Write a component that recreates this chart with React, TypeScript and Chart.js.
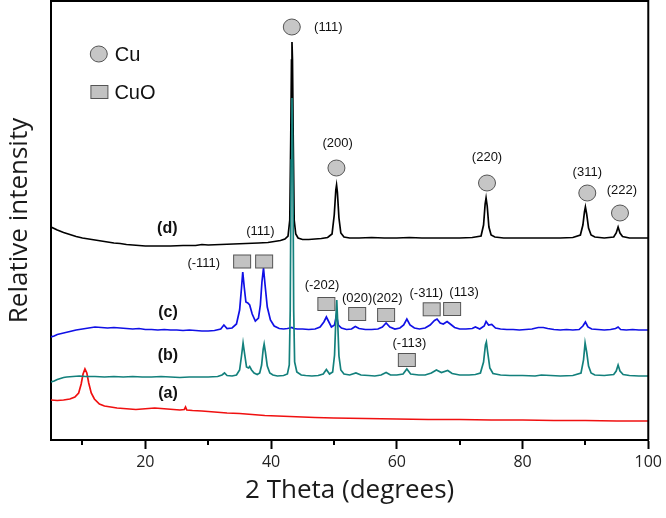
import React, { useEffect, useRef } from "react";
import { Chart, registerables } from "chart.js";

Chart.register(...registerables);

// ---- data (2θ in degrees, intensity in arbitrary stacked units) ----
const A_X = [5, 6, 7, 8, 8.8, 9.4, 9.8, 10.1, 10.4, 10.7, 11.0, 11.4, 11.9, 12.7, 13.5, 14.5, 15.5, 16.5, 17.5, 18.5, 19.5, 20.5, 21.5, 22.5, 23.5, 24.5, 25.5, 26.2, 26.4, 26.6, 27.5, 29, 31, 33, 35, 37, 39, 41, 43, 45, 47, 50, 55, 60, 65, 70, 75, 80, 85, 90, 95, 100];
const A_Y = [40, 39.5, 40, 41, 43, 47, 56, 66, 71, 67, 57, 47, 41, 36, 34, 33, 32, 31.5, 31, 30.5, 31, 31.5, 32, 31.5, 31, 30.5, 30, 30.5, 33, 30, 29.5, 29, 28, 27, 26.5, 25.5, 24.5, 24, 23.5, 23, 22.5, 22, 21.5, 21, 20.5, 20.5, 20, 20, 19.5, 19.5, 19, 19];

const B_X = [5, 5.5, 6, 6.5, 7, 7.5, 8.5, 9.5, 10.5, 12, 13.5, 15, 16.5, 18, 19.5, 21, 22.5, 24, 25.5, 27, 28.5, 30, 31.5, 32.2, 32.6, 33, 33.8, 34.5, 35.0, 35.3, 35.55, 35.8, 36.1, 36.4, 36.6, 36.9, 37.3, 37.8, 38.2, 38.5, 38.75, 38.9, 39.1, 39.4, 39.8, 40.3, 41, 42, 42.6, 42.9, 43.05, 43.2, 43.33, 43.47, 43.6, 43.75, 44.1, 44.8, 45.5, 46.5, 47.5, 48.3, 48.8, 49.3, 49.8, 50.1, 50.3, 50.45, 50.6, 50.8, 51.1, 51.6, 52.5, 53.5, 54.3, 55.5, 56.5, 57.5, 58.3, 59, 60, 61.0, 61.6, 62.2, 63.5, 64.5, 65.5, 66.3, 67.1, 68.1, 68.8, 70, 71.5, 72.5, 73.3, 73.8, 74.1, 74.25, 74.45, 74.8, 75.3, 76.5, 78, 80, 82, 83, 84.5, 86, 88, 89.3, 89.7, 89.95, 90.2, 90.5, 90.9, 91.5, 93, 94.5, 94.9, 95.2, 95.5, 96, 97, 98.5, 100];
const B_Y = [58, 59, 60.5, 61.5, 62.5, 63, 63.5, 64, 63.5, 63.5, 63, 63.5, 63, 63.5, 63, 63, 63.5, 63, 62.5, 63, 63, 63, 63.5, 65, 67, 64.5, 64, 65, 70, 84, 97, 86, 73, 72, 73.5, 70, 67, 65.5, 67, 75, 91, 96, 88, 74, 67, 65, 64, 64.5, 66, 75, 130, 280, 342, 280, 130, 78, 68, 65, 64.5, 64, 64.5, 66, 70.5, 66, 68, 85, 120, 140, 118, 84, 70, 66, 65, 67, 65, 64.5, 64, 65, 67.5, 65, 65, 66, 71, 66, 65, 65, 67, 70, 67.5, 69.5, 66.5, 65, 65, 65.5, 67, 78, 95, 98, 88, 72, 66.5, 65, 64.5, 64.5, 64, 65, 64.5, 64, 64.5, 67, 80, 97, 88, 74, 67, 65, 64.5, 65.5, 69, 75, 69, 65.5, 64.5, 64, 64];

const C_X = [5, 5.5, 6, 7, 8, 9, 10, 11, 12, 13, 14, 15, 16, 17, 18, 19, 20, 21, 22, 23, 24, 25, 26, 27, 28, 29, 30, 31, 32, 32.5, 33, 33.8, 34.5, 35, 35.3, 35.5, 35.75, 36.0, 36.3, 36.6, 37.0, 37.5, 38.0, 38.3, 38.55, 38.8, 39.05, 39.4, 39.9, 40.5, 41.3, 42, 42.6, 43.0, 43.3, 43.6, 44.2, 45, 46, 47, 47.8, 48.4, 48.8, 49.2, 49.6, 50.1, 50.4, 50.7, 51.2, 52, 52.8, 53.4, 54, 55, 56, 57, 57.7, 58.3, 58.9, 59.7, 60.5, 61.1, 61.6, 62.1, 62.8, 63.6, 64.5, 65.3, 66.0, 66.4, 66.9, 67.4, 68.0, 68.5, 69.2, 70, 71, 72, 72.5, 73.2, 73.9, 74.2, 74.6, 75.1, 75.7, 76.5, 77.5, 78.5, 79.5, 80.5, 81.5, 82.5, 83.3, 84, 85, 86, 87, 88, 89, 89.6, 90, 90.4, 91, 92, 93, 94, 94.8, 95.2, 95.6, 96.5, 97.5, 98.5, 100];
const C_Y = [103, 104, 105.5, 107, 108.5, 110, 111, 112, 113, 112.5, 112, 112.5, 112, 111.5, 111, 111.5, 110.5, 110.5, 110, 110.5, 110, 110, 109.5, 110, 109.5, 109, 109, 109.5, 111, 115, 111.5, 112, 116, 130, 152, 168, 152, 138, 137, 135, 126, 119, 122, 135, 158, 172, 155, 133, 120, 114, 111.5, 111, 111.5, 112, 112.5, 111.5, 111, 111, 110.5, 111, 113, 118, 123, 118, 113, 115, 125, 115, 112, 110.5, 111, 113.5, 111.5, 110.5, 110.5, 111, 113, 117, 113, 111, 112, 115, 121, 115, 112, 111, 112, 115, 119.5, 121, 117, 116, 118.5, 116, 112.5, 111, 111, 111.5, 113, 111, 114, 118.5, 115, 115.5, 112, 111, 110.5, 110.5, 110, 110.5, 111, 112.5, 112.5, 111.5, 110.5, 110, 110.5, 110, 110.5, 114, 118, 113, 111, 110.5, 110, 110.5, 111.5, 113, 110.5, 110, 110.5, 110, 110];

const D_X = [5, 5.5, 6, 7, 8, 9, 10, 11, 12, 13, 14, 15, 16, 17, 18, 19, 20, 22, 24, 26, 28, 29, 30, 32, 34, 36, 38, 39.5, 40.5, 41.5, 42.2, 42.7, 42.98, 43.13, 43.25, 43.33, 43.41, 43.53, 43.68, 43.93, 44.3, 45, 46, 47, 48, 49, 49.7, 50.05, 50.3, 50.42, 50.55, 50.8, 51.1, 51.6, 52.5, 54, 56, 58, 60, 62, 64, 66, 68, 70, 72, 73.4, 73.8, 74.05, 74.2, 74.38, 74.65, 75, 75.6, 77, 80, 83, 86, 88, 89.2, 89.6, 89.85, 90.0, 90.2, 90.5, 90.9, 91.5, 93, 94.5, 94.9, 95.2, 95.5, 95.9, 97, 98.5, 100];
const D_Y = [213, 211.5, 210, 207.5, 205.5, 203.5, 202, 201, 200, 199, 198, 197, 196.5, 195.5, 195, 194.5, 194, 194, 194, 194.5, 194.5, 195.5, 195, 195.5, 196, 196.5, 197, 197.5, 198.5, 199.5, 201, 204, 220, 300, 380, 398, 380, 300, 220, 206, 202, 200.5, 200.5, 201, 201.5, 202.5, 206, 225, 250, 255, 248, 222, 207, 203, 202, 202, 202.5, 202, 202, 202.5, 202, 202, 202, 202, 202.5, 204, 215, 236, 242, 234, 213, 205, 203, 202, 202, 202, 202, 202.5, 205, 215, 228, 233, 226, 212, 205, 203, 202, 203, 207, 213, 207, 203.5, 202, 202, 202];

const SERIES_NAMES = ["(b)", "(c)", "(d)", "(a)"];
const SERIES_COLORS = ["#13807c", "#1010e6", "#000000", "#f01010"];

const X_MIN = 5;
const X_MAX = 100;
const Y_MIN = 0;
const Y_MAX = 439;
const X_MAJOR_TICKS = [20, 40, 60, 80, 100];
const X_MINOR_TICKS = [10, 30, 50, 70, 90];

// Cu (circle) reflections: marker position and hkl label position
const CU_MARK_X = [43.3, 50.4, 74.35, 90.3, 95.5];
const CU_MARK_Y = [413, 272, 257, 247, 227];
const CU_LABELS = ["(111)", "(200)", "(220)", "(311)", "(222)"];
const CU_LABEL_X = [49.1, 50.6, 74.35, 90.3, 95.8];
const CU_LABEL_Y = [413, 297, 283, 268, 250];

// CuO (square) reflections
const CUO_MARK_X = [35.4, 38.9, 48.8, 53.7, 58.3, 65.55, 68.8, 61.6];
const CUO_MARK_Y = [178.5, 178.5, 136, 126, 125, 130.7, 131, 80];
const CUO_LABELS = ["(-111)", "(111)", "(-202)", "(020)", "(202)", "(-311)", "(113)", "(-113)"];
const CUO_LABEL_X = [29.3, 38.3, 48.1, 53.7, 58.5, 64.7, 70.7, 62];
const CUO_LABEL_Y = [177, 209, 155, 142, 142, 147, 148, 97];

// sample labels
const SAMPLE_LABELS = ["(d)", "(c)", "(b)", "(a)"];
const SAMPLE_LABEL_X = [23.5, 23.6, 23.6, 23.6];
const SAMPLE_LABEL_Y = [211, 127, 84, 46];

// key
const KEY_LABELS = ["Cu", "CuO"];
const KEY_X = [12.6, 12.7];
const KEY_Y = [386, 348];

const toPoints = (xs: number[], ys: number[]) => xs.map((x, i) => ({ x, y: ys[i] }));

const ANNOT_FONT = "13px 'Liberation Sans', Arial, sans-serif";

function drawCircle(ctx: CanvasRenderingContext2D, cx: number, cy: number) {
  ctx.beginPath();
  ctx.ellipse(cx, cy, 8.5, 8, 0, 0, Math.PI * 2);
  ctx.fillStyle = "#c6c6c6";
  ctx.fill();
  ctx.lineWidth = 1;
  ctx.strokeStyle = "#555";
  ctx.stroke();
}

function drawSquare(ctx: CanvasRenderingContext2D, cx: number, cy: number) {
  ctx.fillStyle = "#c2c2c2";
  ctx.fillRect(cx - 8.5, cy - 6.5, 17, 13);
  ctx.lineWidth = 1;
  ctx.strokeStyle = "#555";
  ctx.strokeRect(cx - 8.5, cy - 6.5, 17, 13);
}

const overlayPlugin = {
  id: "xrdOverlay",
  afterDatasetsDraw(chart: any) {
    const { ctx, chartArea } = chart;
    const xs = chart.scales.x;
    const ys = chart.scales.y;
    ctx.save();

    // frame (top + right)
    ctx.strokeStyle = "#000";
    ctx.lineWidth = 2;
    ctx.beginPath();
    ctx.moveTo(chartArea.left, chartArea.top);
    ctx.lineTo(chartArea.right, chartArea.top);
    ctx.lineTo(chartArea.right, chartArea.bottom);
    ctx.stroke();

    // minor ticks
    ctx.beginPath();
    for (const v of X_MINOR_TICKS) {
      const px = Math.round(xs.getPixelForValue(v));
      ctx.moveTo(px, chartArea.bottom);
      ctx.lineTo(px, chartArea.bottom + 5);
    }
    ctx.stroke();

    // Cu markers
    ctx.textBaseline = "middle";
    ctx.font = ANNOT_FONT;
    CU_MARK_X.forEach((v, i) => {
      drawCircle(ctx, xs.getPixelForValue(v), ys.getPixelForValue(CU_MARK_Y[i]));
    });
    ctx.fillStyle = "#111";
    ctx.textAlign = "center";
    CU_LABELS.forEach((t, i) => {
      ctx.fillText(t, xs.getPixelForValue(CU_LABEL_X[i]), ys.getPixelForValue(CU_LABEL_Y[i]));
    });

    // CuO markers
    CUO_MARK_X.forEach((v, i) => {
      drawSquare(ctx, xs.getPixelForValue(v), ys.getPixelForValue(CUO_MARK_Y[i]));
    });
    ctx.fillStyle = "#111";
    ctx.font = ANNOT_FONT;
    CUO_LABELS.forEach((t, i) => {
      ctx.fillText(t, xs.getPixelForValue(CUO_LABEL_X[i]), ys.getPixelForValue(CUO_LABEL_Y[i]));
    });

    // sample labels
    ctx.font = "bold 16px 'Liberation Sans', Arial, sans-serif";
    ctx.fillStyle = "#111";
    SAMPLE_LABELS.forEach((t, i) => {
      ctx.fillText(t, xs.getPixelForValue(SAMPLE_LABEL_X[i]), ys.getPixelForValue(SAMPLE_LABEL_Y[i]));
    });

    // key
    const k0x = xs.getPixelForValue(KEY_X[0]);
    const k0y = ys.getPixelForValue(KEY_Y[0]);
    const k1x = xs.getPixelForValue(KEY_X[1]);
    const k1y = ys.getPixelForValue(KEY_Y[1]);
    drawCircle(ctx, k0x, k0y);
    drawSquare(ctx, k1x, k1y);
    ctx.font = "20px 'Liberation Sans', Arial, sans-serif";
    ctx.fillStyle = "#111";
    ctx.textAlign = "left";
    ctx.fillText(KEY_LABELS[0], k0x + 16, k0y + 1);
    ctx.fillText(KEY_LABELS[1], k1x + 15, k1y + 1);

    ctx.restore();
  },
};

export default function App() {
  const canvasRef = useRef<HTMLCanvasElement | null>(null);

  useEffect(() => {
    const canvas = canvasRef.current;
    if (!canvas) return;
    const datasets = [
      toPoints(B_X, B_Y),
      toPoints(C_X, C_Y),
      toPoints(D_X, D_Y),
      toPoints(A_X, A_Y),
    ].map((data, i) => ({
      label: SERIES_NAMES[i],
      data,
      borderColor: SERIES_COLORS[i],
      backgroundColor: SERIES_COLORS[i],
      borderWidth: 1.7,
      pointRadius: 0,
      tension: 0,
      fill: false,
    }));

    const chart = new Chart(canvas, {
      type: "line",
      data: { datasets },
      plugins: [overlayPlugin],
      options: {
        animation: false,
        responsive: false,
        maintainAspectRatio: false,
        devicePixelRatio: 1,
        parsing: false,
        layout: { padding: { left: 0, right: 14, top: 1, bottom: 0 } },
        plugins: {
          legend: { display: false },
          tooltip: { enabled: false },
        },
        scales: {
          x: {
            type: "linear",
            min: X_MIN,
            max: X_MAX,
            afterBuildTicks: (s: any) => {
              s.ticks = X_MAJOR_TICKS.map((v) => ({ value: v }));
            },
            afterFit: (s: any) => {
              s.height = 78;
            },
            grid: {
              display: true,
              drawOnChartArea: false,
              drawTicks: true,
              tickLength: 9,
              tickWidth: 2,
              tickColor: "#000",
            },
            border: { display: true, color: "#000", width: 2 },
            ticks: {
              color: "#222",
              padding: 4,
              maxRotation: 0,
              font: { family: "'Open Sans', sans-serif", size: 16 },
            },
            title: {
              display: true,
              text: "2 Theta (degrees)",
              color: "#1a1a1a",
              padding: { top: 0, bottom: 12 },
              font: { family: "'Open Sans', sans-serif", size: 26 },
            },
          },
          y: {
            type: "linear",
            min: Y_MIN,
            max: Y_MAX,
            afterFit: (s: any) => {
              s.width = 51;
            },
            grid: { display: false },
            border: { display: true, color: "#000", width: 2 },
            ticks: { display: false },
            title: {
              display: true,
              text: "Relative intensity",
              color: "#1a1a1a",
              padding: { top: 4, bottom: 0 },
              font: { family: "'Open Sans', sans-serif", size: 26 },
            },
          },
        },
      },
    } as any);

    return () => {
      chart.destroy();
    };
  }, []);

  return (
    <div style={{ position: "fixed", left: 0, top: 0, width: 666, height: 518, background: "#fff" }}>
      <canvas ref={canvasRef} width={666} height={518} style={{ display: "block", width: 666, height: 518 }} />
    </div>
  );
}
